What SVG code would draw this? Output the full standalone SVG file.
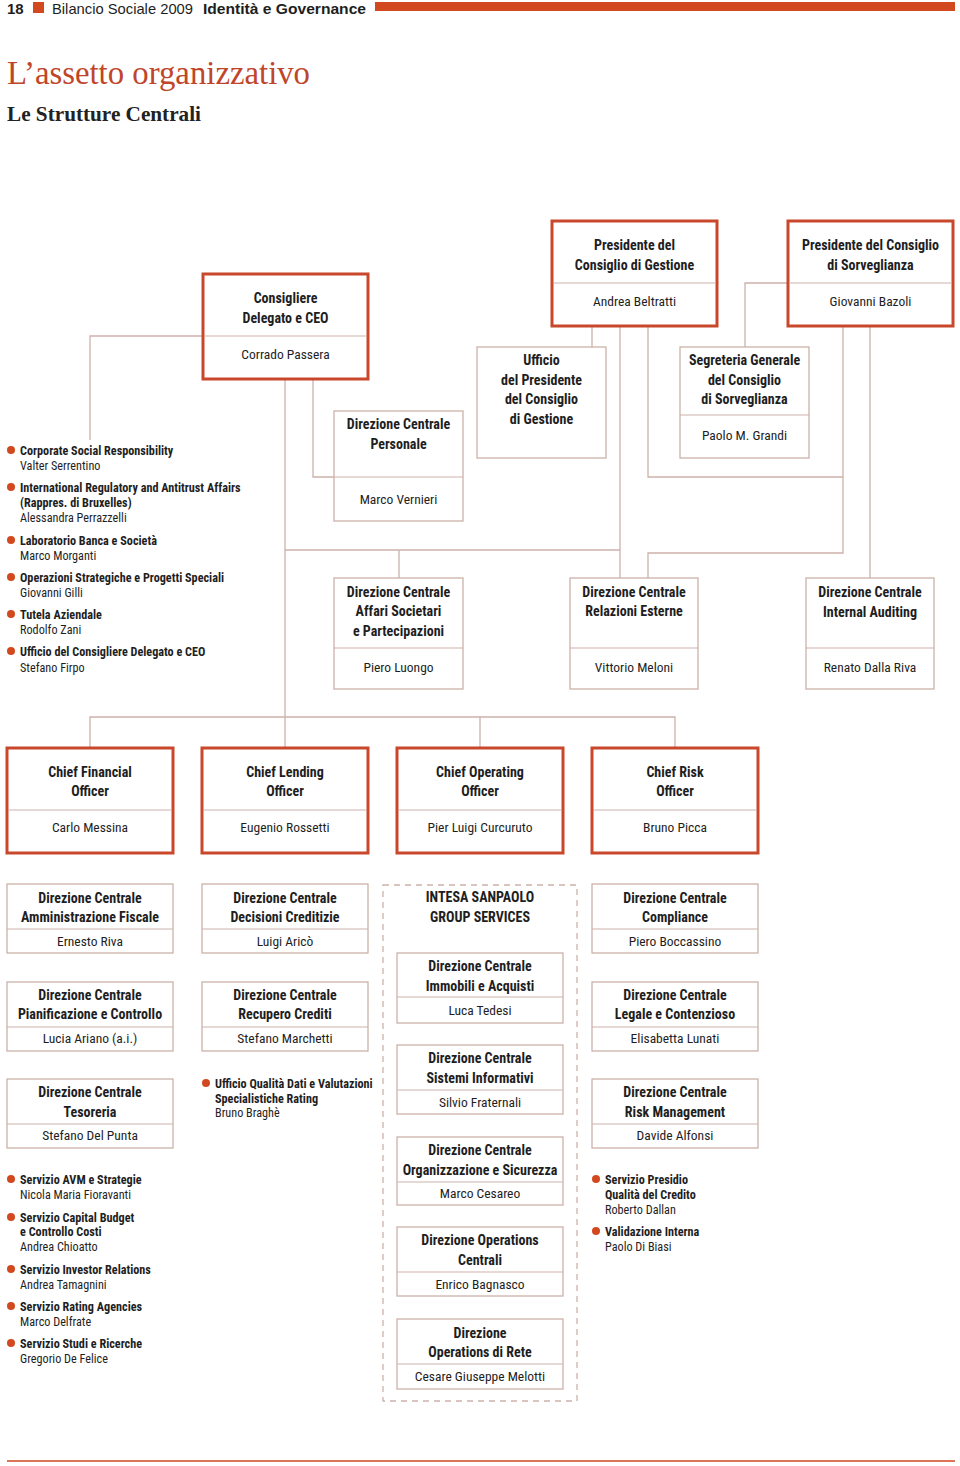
<svg xmlns="http://www.w3.org/2000/svg" width="960" height="1466" viewBox="0 0 960 1466">
<style>
.bg{fill:#ffffff}
.thick{fill:#ffffff;stroke:#c9472b;stroke-width:3}
.thin{fill:#ffffff;stroke:#cdb1aa;stroke-width:1.3}
.div{stroke:#cdb1aa;stroke-width:1.2}
.con{fill:none;stroke:#cdb1aa;stroke-width:1.3}
.dash{fill:none;stroke:#cdb1aa;stroke-width:1.3;stroke-dasharray:6 5}
.t{font-family:"Roboto Condensed","Liberation Sans Narrow","DejaVu Sans Condensed","Liberation Sans",sans-serif;font-size:13.5px;fill:#1e1e1e;text-anchor:middle}
.b{font-weight:bold;font-size:14px}
.l{font-family:"Roboto Condensed","Liberation Sans Narrow","DejaVu Sans Condensed","Liberation Sans",sans-serif;font-size:12.2px;fill:#1e1e1e}
.lb{font-weight:bold}
.dot{fill:#d2491f}
.hd{font-family:"Liberation Sans",sans-serif;font-size:15px;fill:#1e1e1e}
.red{fill:#d2491f}
.ttl{font-family:"Liberation Serif",serif;fill:#c0462a}
.sub{font-family:"Liberation Serif",serif;font-weight:bold;fill:#222}
</style>
<rect class="bg" x="0" y="0" width="960" height="1466"/>

<g id="header">
<text class="hd" x="7" y="14" font-weight="bold">18</text>
<rect class="red" x="33" y="2" width="11" height="11"/>
<text class="hd" x="52" y="14" fill="#3a3a3a" textLength="141" lengthAdjust="spacingAndGlyphs">Bilancio Sociale 2009</text>
<text class="hd" x="203" y="14" font-weight="bold" textLength="163" lengthAdjust="spacingAndGlyphs">Identità e Governance</text>
<rect class="red" x="375" y="2" width="580" height="9"/>
<text class="ttl" x="7" y="84" font-size="34" textLength="303" lengthAdjust="spacingAndGlyphs">L’assetto organizzativo</text>
<text class="sub" x="7" y="121" font-size="22" textLength="194" lengthAdjust="spacingAndGlyphs">Le Strutture Centrali</text>
</g>

<g id="connectors">
<path class="con" d="M203 336 H90 V440"/>
<path class="con" d="M285 379 V748"/>
<path class="con" d="M313 379 V477 H334"/>
<path class="con" d="M592 326 V347"/>
<path class="con" d="M620 326 V578"/>
<path class="con" d="M285 550 H620"/>
<path class="con" d="M399 550 V578"/>
<path class="con" d="M648 326 V477 H843"/>
<path class="con" d="M843 326 V553 H648 V578"/>
<path class="con" d="M870 326 V578"/>
<path class="con" d="M788 283 H745 V347"/>
<path class="con" d="M90 748 V717 H675 V748"/>
<path class="con" d="M480 717 V748"/>
</g>

<g id="n-gestione">
<rect class="thick" x="552" y="221" width="165" height="105"/>
<line class="div" x1="553.5" y1="283" x2="715.5" y2="283"/>
<text class="t b" x="634.5" y="250">Presidente del</text>
<text class="t b" x="634.5" y="270">Consiglio di Gestione</text>
<text class="t" x="634.5" y="306">Andrea Beltratti</text>
</g>
<g id="n-sorveglianza">
<rect class="thick" x="788" y="221" width="165" height="105"/>
<line class="div" x1="789.5" y1="283" x2="951.5" y2="283"/>
<text class="t b" x="870.5" y="250">Presidente del Consiglio</text>
<text class="t b" x="870.5" y="270">di Sorveglianza</text>
<text class="t" x="870.5" y="306">Giovanni Bazoli</text>
</g>
<g id="n-ceo">
<rect class="thick" x="203" y="274" width="165" height="105"/>
<line class="div" x1="204.5" y1="336" x2="366.5" y2="336"/>
<text class="t b" x="285.5" y="303">Consigliere</text>
<text class="t b" x="285.5" y="323">Delegato e CEO</text>
<text class="t" x="285.5" y="359">Corrado Passera</text>
</g>

<g id="n-personale">
<rect class="thin" x="334" y="411" width="129" height="110"/>
<line class="div" x1="334" y1="477" x2="463" y2="477"/>
<text class="t b" x="398.5" y="429">Direzione Centrale</text>
<text class="t b" x="398.5" y="449">Personale</text>
<text class="t" x="398.5" y="504">Marco Vernieri</text>
</g>
<g id="n-ufficio-presidente">
<rect class="thin" x="477" y="347" width="129" height="111"/>
<text class="t b" x="541.5" y="365">Ufficio</text>
<text class="t b" x="541.5" y="385">del Presidente</text>
<text class="t b" x="541.5" y="404">del Consiglio</text>
<text class="t b" x="541.5" y="424">di Gestione</text>
</g>
<g id="n-segreteria">
<rect class="thin" x="680" y="347" width="129" height="111"/>
<line class="div" x1="680" y1="415" x2="809" y2="415"/>
<text class="t b" x="744.5" y="365">Segreteria Generale</text>
<text class="t b" x="744.5" y="385">del Consiglio</text>
<text class="t b" x="744.5" y="404">di Sorveglianza</text>
<text class="t" x="744.5" y="440">Paolo M. Grandi</text>
</g>

<g id="n-affari">
<rect class="thin" x="334" y="578" width="129" height="111"/>
<line class="div" x1="334" y1="648" x2="463" y2="648"/>
<text class="t b" x="398.5" y="597">Direzione Centrale</text>
<text class="t b" x="398.5" y="616">Affari Societari</text>
<text class="t b" x="398.5" y="636">e Partecipazioni</text>
<text class="t" x="398.5" y="672">Piero Luongo</text>
</g>
<g id="n-relazioni">
<rect class="thin" x="570" y="578" width="128" height="111"/>
<line class="div" x1="570" y1="648" x2="698" y2="648"/>
<text class="t b" x="634" y="597">Direzione Centrale</text>
<text class="t b" x="634" y="616">Relazioni Esterne</text>
<text class="t" x="634" y="672">Vittorio Meloni</text>
</g>
<g id="n-auditing">
<rect class="thin" x="806" y="578" width="128" height="111"/>
<line class="div" x1="806" y1="648" x2="934" y2="648"/>
<text class="t b" x="870" y="597">Direzione Centrale</text>
<text class="t b" x="870" y="617">Internal Auditing</text>
<text class="t" x="870" y="672">Renato Dalla Riva</text>
</g>

<g id="list-ceo">
<circle class="dot" cx="11" cy="450" r="4"/>
<text class="l lb" x="20" y="455">Corporate Social Responsibility</text>
<text class="l" x="20" y="470">Valter Serrentino</text>
<circle class="dot" cx="11" cy="487" r="4"/>
<text class="l lb" x="20" y="492">International Regulatory and Antitrust Affairs</text>
<text class="l lb" x="20" y="507">(Rappres. di Bruxelles)</text>
<text class="l" x="20" y="522">Alessandra Perrazzelli</text>
<circle class="dot" cx="11" cy="540" r="4"/>
<text class="l lb" x="20" y="545">Laboratorio Banca e Società</text>
<text class="l" x="20" y="560">Marco Morganti</text>
<circle class="dot" cx="11" cy="577" r="4"/>
<text class="l lb" x="20" y="582">Operazioni Strategiche e Progetti Speciali</text>
<text class="l" x="20" y="597">Giovanni Gilli</text>
<circle class="dot" cx="11" cy="614" r="4"/>
<text class="l lb" x="20" y="619">Tutela Aziendale</text>
<text class="l" x="20" y="634">Rodolfo Zani</text>
<circle class="dot" cx="11" cy="651" r="4"/>
<text class="l lb" x="20" y="656">Ufficio del Consigliere Delegato e CEO</text>
<text class="l" x="20" y="672">Stefano Firpo</text>
</g>

<g id="n-cfo">
<rect class="thick" x="7" y="748" width="166" height="105"/>
<line class="div" x1="8.5" y1="810" x2="171.5" y2="810"/>
<text class="t b" x="90" y="777">Chief Financial</text>
<text class="t b" x="90" y="796">Officer</text>
<text class="t" x="90" y="832">Carlo Messina</text>
</g>
<g id="n-clo">
<rect class="thick" x="202" y="748" width="166" height="105"/>
<line class="div" x1="203.5" y1="810" x2="366.5" y2="810"/>
<text class="t b" x="285" y="777">Chief Lending</text>
<text class="t b" x="285" y="796">Officer</text>
<text class="t" x="285" y="832">Eugenio Rossetti</text>
</g>
<g id="n-coo">
<rect class="thick" x="397" y="748" width="166" height="105"/>
<line class="div" x1="398.5" y1="810" x2="561.5" y2="810"/>
<text class="t b" x="480" y="777">Chief Operating</text>
<text class="t b" x="480" y="796">Officer</text>
<text class="t" x="480" y="832">Pier Luigi Curcuruto</text>
</g>
<g id="n-cro">
<rect class="thick" x="592" y="748" width="166" height="105"/>
<line class="div" x1="593.5" y1="810" x2="756.5" y2="810"/>
<text class="t b" x="675" y="777">Chief Risk</text>
<text class="t b" x="675" y="796">Officer</text>
<text class="t" x="675" y="832">Bruno Picca</text>
</g>

<g id="n-amministrazione">
<rect class="thin" x="7" y="884" width="166" height="69"/>
<line class="div" x1="7" y1="929" x2="173" y2="929"/>
<text class="t b" x="90" y="903">Direzione Centrale</text>
<text class="t b" x="90" y="922">Amministrazione Fiscale</text>
<text class="t" x="90" y="946">Ernesto Riva</text>
</g>
<g id="n-pianificazione">
<rect class="thin" x="7" y="982" width="166" height="69"/>
<line class="div" x1="7" y1="1027" x2="173" y2="1027"/>
<text class="t b" x="90" y="1000">Direzione Centrale</text>
<text class="t b" x="90" y="1019">Pianificazione e Controllo</text>
<text class="t" x="90" y="1043">Lucia Ariano (a.i.)</text>
</g>
<g id="n-tesoreria">
<rect class="thin" x="7" y="1079" width="166" height="69"/>
<line class="div" x1="7" y1="1124" x2="173" y2="1124"/>
<text class="t b" x="90" y="1097">Direzione Centrale</text>
<text class="t b" x="90" y="1117">Tesoreria</text>
<text class="t" x="90" y="1140">Stefano Del Punta</text>
</g>
<g id="list-cfo">
<circle class="dot" cx="11" cy="1179" r="4"/>
<text class="l lb" x="20" y="1184">Servizio AVM e Strategie</text>
<text class="l" x="20" y="1199">Nicola Maria Fioravanti</text>
<circle class="dot" cx="11" cy="1217" r="4"/>
<text class="l lb" x="20" y="1222">Servizio Capital Budget</text>
<text class="l lb" x="20" y="1236">e Controllo Costi</text>
<text class="l" x="20" y="1251">Andrea Chioatto</text>
<circle class="dot" cx="11" cy="1269" r="4"/>
<text class="l lb" x="20" y="1274">Servizio Investor Relations</text>
<text class="l" x="20" y="1289">Andrea Tamagnini</text>
<circle class="dot" cx="11" cy="1306" r="4"/>
<text class="l lb" x="20" y="1311">Servizio Rating Agencies</text>
<text class="l" x="20" y="1326">Marco Delfrate</text>
<circle class="dot" cx="11" cy="1343" r="4"/>
<text class="l lb" x="20" y="1348">Servizio Studi e Ricerche</text>
<text class="l" x="20" y="1363">Gregorio De Felice</text>
</g>

<g id="n-decisioni">
<rect class="thin" x="202" y="884" width="166" height="69"/>
<line class="div" x1="202" y1="929" x2="368" y2="929"/>
<text class="t b" x="285" y="903">Direzione Centrale</text>
<text class="t b" x="285" y="922">Decisioni Creditizie</text>
<text class="t" x="285" y="946">Luigi Aricò</text>
</g>
<g id="n-recupero">
<rect class="thin" x="202" y="982" width="166" height="69"/>
<line class="div" x1="202" y1="1027" x2="368" y2="1027"/>
<text class="t b" x="285" y="1000">Direzione Centrale</text>
<text class="t b" x="285" y="1019">Recupero Crediti</text>
<text class="t" x="285" y="1043">Stefano Marchetti</text>
</g>
<g id="list-clo">
<circle class="dot" cx="206" cy="1083" r="4"/>
<text class="l lb" x="215" y="1088">Ufficio Qualità Dati e Valutazioni</text>
<text class="l lb" x="215" y="1103">Specialistiche Rating</text>
<text class="l" x="215" y="1117">Bruno Braghè</text>
</g>

<g id="n-group-services">
<rect class="dash" x="383" y="885" width="194" height="516"/>
<text class="t b" x="480" y="902">INTESA SANPAOLO</text>
<text class="t b" x="480" y="922">GROUP SERVICES</text>
</g>
<g id="n-immobili">
<rect class="thin" x="397" y="953" width="166" height="70"/>
<line class="div" x1="397" y1="997" x2="563" y2="997"/>
<text class="t b" x="480" y="971">Direzione Centrale</text>
<text class="t b" x="480" y="991">Immobili e Acquisti</text>
<text class="t" x="480" y="1015">Luca Tedesi</text>
</g>
<g id="n-sistemi">
<rect class="thin" x="397" y="1045" width="166" height="69"/>
<line class="div" x1="397" y1="1090" x2="563" y2="1090"/>
<text class="t b" x="480" y="1063">Direzione Centrale</text>
<text class="t b" x="480" y="1083">Sistemi Informativi</text>
<text class="t" x="480" y="1107">Silvio Fraternali</text>
</g>
<g id="n-organizzazione">
<rect class="thin" x="397" y="1137" width="166" height="68"/>
<line class="div" x1="397" y1="1182" x2="563" y2="1182"/>
<text class="t b" x="480" y="1155">Direzione Centrale</text>
<text class="t b" x="480" y="1175">Organizzazione e Sicurezza</text>
<text class="t" x="480" y="1198">Marco Cesareo</text>
</g>
<g id="n-ops-centrali">
<rect class="thin" x="397" y="1227" width="166" height="69"/>
<line class="div" x1="397" y1="1272" x2="563" y2="1272"/>
<text class="t b" x="480" y="1245">Direzione Operations</text>
<text class="t b" x="480" y="1265">Centrali</text>
<text class="t" x="480" y="1289">Enrico Bagnasco</text>
</g>
<g id="n-ops-rete">
<rect class="thin" x="397" y="1319" width="166" height="70"/>
<line class="div" x1="397" y1="1364" x2="563" y2="1364"/>
<text class="t b" x="480" y="1338">Direzione</text>
<text class="t b" x="480" y="1357">Operations di Rete</text>
<text class="t" x="480" y="1381">Cesare Giuseppe Melotti</text>
</g>

<g id="n-compliance">
<rect class="thin" x="592" y="884" width="166" height="69"/>
<line class="div" x1="592" y1="929" x2="758" y2="929"/>
<text class="t b" x="675" y="903">Direzione Centrale</text>
<text class="t b" x="675" y="922">Compliance</text>
<text class="t" x="675" y="946">Piero Boccassino</text>
</g>
<g id="n-legale">
<rect class="thin" x="592" y="982" width="166" height="69"/>
<line class="div" x1="592" y1="1027" x2="758" y2="1027"/>
<text class="t b" x="675" y="1000">Direzione Centrale</text>
<text class="t b" x="675" y="1019">Legale e Contenzioso</text>
<text class="t" x="675" y="1043">Elisabetta Lunati</text>
</g>
<g id="n-risk">
<rect class="thin" x="592" y="1079" width="166" height="69"/>
<line class="div" x1="592" y1="1124" x2="758" y2="1124"/>
<text class="t b" x="675" y="1097">Direzione Centrale</text>
<text class="t b" x="675" y="1117">Risk Management</text>
<text class="t" x="675" y="1140">Davide Alfonsi</text>
</g>
<g id="list-cro">
<circle class="dot" cx="596" cy="1179" r="4"/>
<text class="l lb" x="605" y="1184">Servizio Presidio</text>
<text class="l lb" x="605" y="1199">Qualità del Credito</text>
<text class="l" x="605" y="1214">Roberto Dallan</text>
<circle class="dot" cx="596" cy="1231" r="4"/>
<text class="l lb" x="605" y="1236">Validazione Interna</text>
<text class="l" x="605" y="1251">Paolo Di Biasi</text>
</g>

<g id="footer">
<line x1="7" y1="1461" x2="955" y2="1461" stroke="#d2491f" stroke-width="1.5"/>
</g>
</svg>
